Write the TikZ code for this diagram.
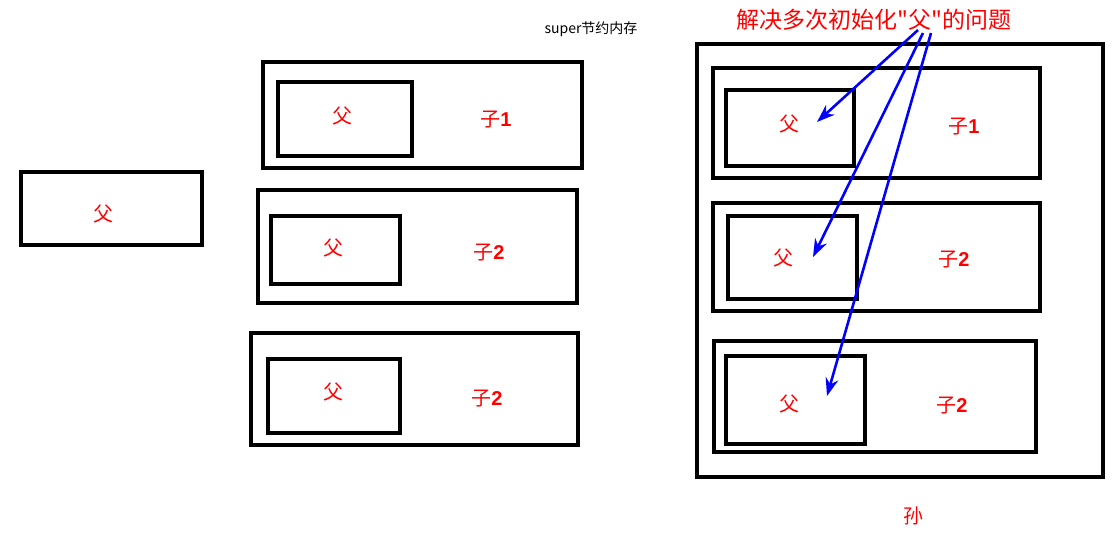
\documentclass[tikz,border=0pt]{standalone}
\usepackage{fontspec}
\setmainfont{Liberation Sans}
\newfontfamily\cjk{Noto Sans CJK SC}
\usetikzlibrary{arrows.meta}
\begin{document}
\begin{tikzpicture}[x=1pt, y=-1pt,
  box/.style={line width=4.4pt, draw=black},
  lbl/.style={text=red, font=\cjk\fontsize{20}{22}\selectfont, inner sep=0pt},
  arr/.style={blue, line width=2.6pt, -{Stealth[length=18pt, width=13pt]}}]
\useasboundingbox[fill=white] (0,0) rectangle (1115,539);

% 单独的父
\draw[box] (21,172) rectangle (202,245);
\node[lbl] (fa0) at (103,214) {父};

% 三个子 (super)
\node[font=\cjk\fontsize{14}{16}\selectfont, inner sep=0pt] (note) at (591,29) {super节约内存};
\draw[box] (263,62) rectangle (582,168);
\draw[box] (278,82) rectangle (412,156);
\node[lbl] (fa1) at (342,116) {父};
\node[lbl] (zi1) at (496,120) {子\textbf{\fontspec{Liberation Sans}1}};

\draw[box] (258,190) rectangle (577,303);
\draw[box] (271,216) rectangle (400,284);
\node[lbl] (fa2) at (333,248) {父};
\node[lbl] (zi2) at (489,253) {子\textbf{\fontspec{Liberation Sans}2}};

\draw[box] (251,333) rectangle (578,445);
\draw[box] (268,359) rectangle (400,433);
\node[lbl] (fa3) at (333,392) {父};
\node[lbl] (zi3) at (487,399) {子\textbf{\fontspec{Liberation Sans}2}};

% 孙
\draw[box] (697,44) rectangle (1103,477);
\node[lbl] (sun) at (913,516) {孙};

\draw[box] (713,68) rectangle (1040,178);
\draw[box] (726,90) rectangle (854,166);
\node[lbl] (gfa1) at (789,124) {父};
\node[lbl] (gzi1) at (964,127) {子\textbf{\fontspec{Liberation Sans}1}};

\draw[box] (713,203) rectangle (1040,311);
\draw[box] (728,216) rectangle (857,299);
\node[lbl] (gfa2) at (783,258) {父};
\node[lbl] (gzi2) at (954,260) {子\textbf{\fontspec{Liberation Sans}2}};

\draw[box] (714,341) rectangle (1036,452);
\draw[box] (726,356) rectangle (865,444);
\node[lbl] (gfa3) at (789,404) {父};
\node[lbl] (gzi3) at (952,406) {子\textbf{\fontspec{Liberation Sans}2}};

% 问题
\node[text=red, font=\cjk\fontsize{23}{25}\selectfont, inner sep=0pt] (title) at (874,20) {解决多次初始化"父"的问题};
\coordinate (s1) at (918,30);
\coordinate (s2) at (923,33);
\coordinate (s3) at (931,33);
\coordinate (e1) at (817,122);
\coordinate (e2) at (813,257);
\coordinate (e3) at (827,396);
\draw[arr] (s1) -- (e1);
\draw[arr] (s2) -- (e2);
\draw[arr] (s3) -- (e3);
\end{tikzpicture}
\end{document}
